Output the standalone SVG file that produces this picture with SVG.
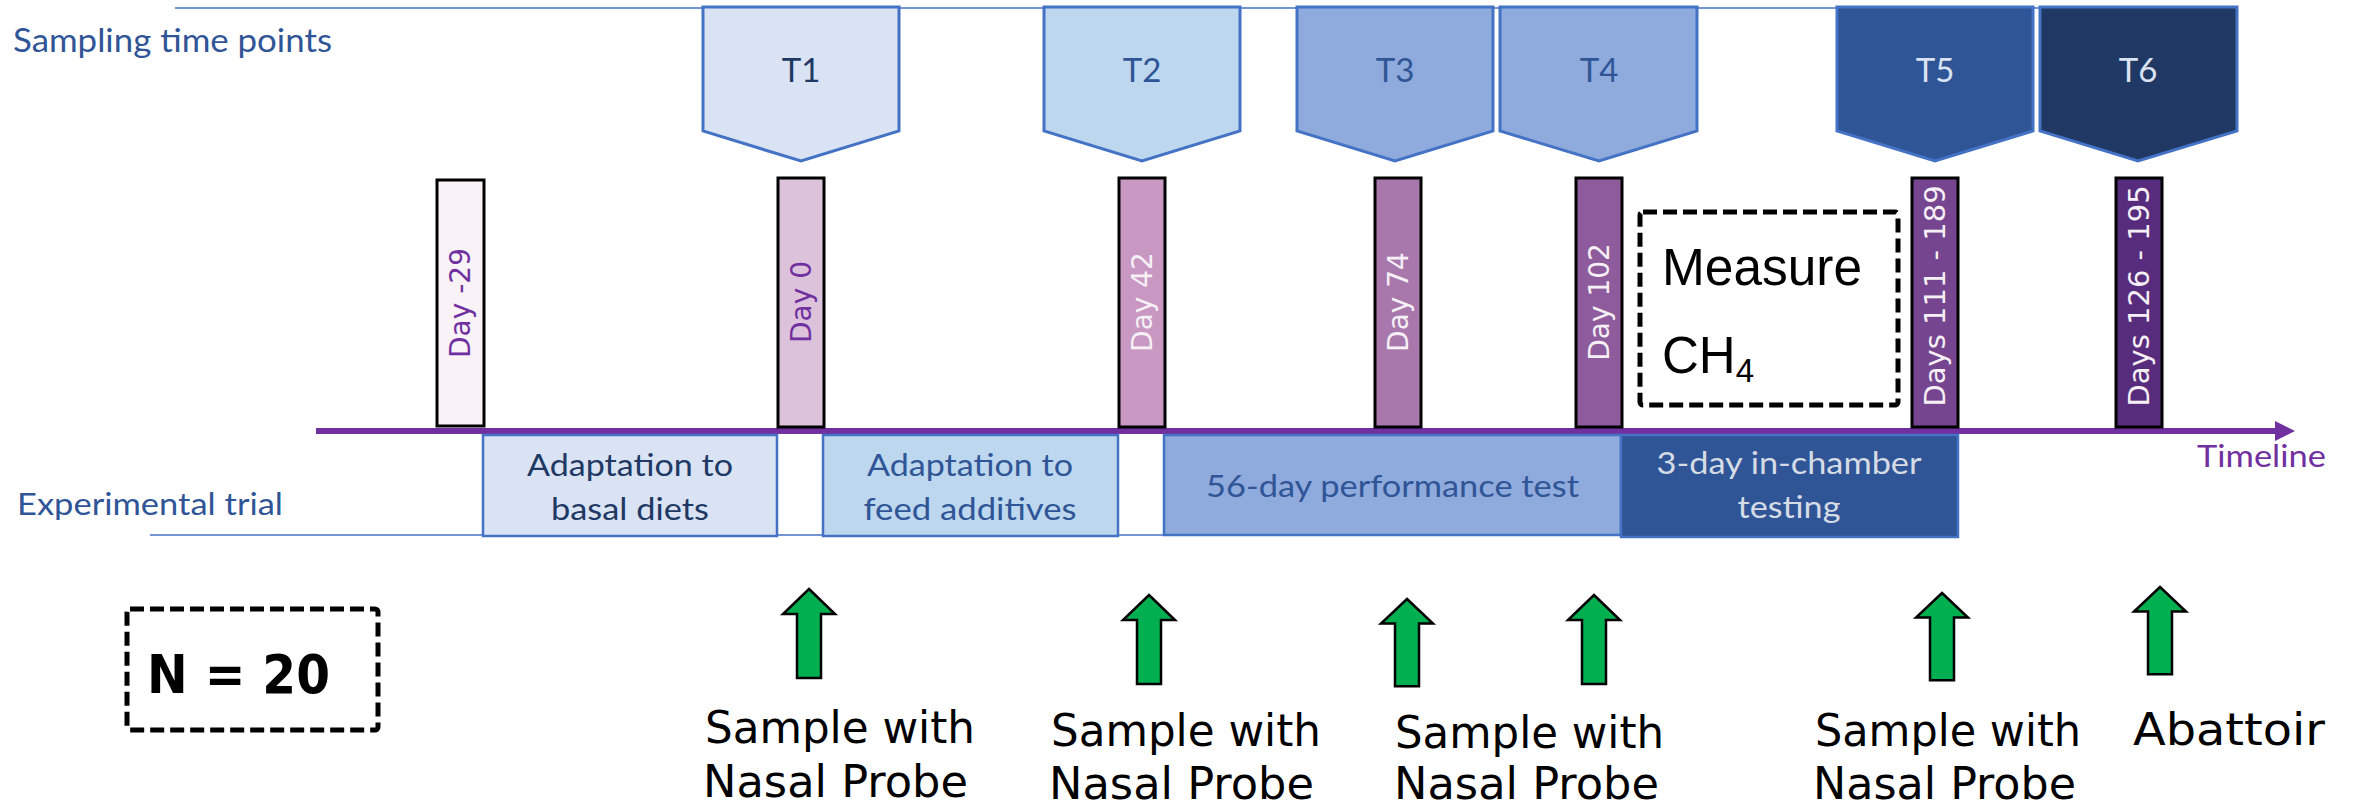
<svg xmlns="http://www.w3.org/2000/svg" width="2354" height="810" viewBox="0 0 2354 810">
<defs>
<style>
.cal{font-family:Lato,"Open Sans","Liberation Sans",sans-serif;}
.ver{font-family:"DejaVu Sans","Liberation Sans",sans-serif;}
.ari{font-family:"Liberation Sans",Arial,sans-serif;}
.com{font-family:"DejaVu Sans","Liberation Sans",sans-serif;fill:#000;}
.pent{stroke:#4472C4;stroke-width:3;stroke-linejoin:miter;}
.bar{stroke:#000;stroke-width:3;}
.trial{stroke:#4472C4;stroke-width:2.5;}
.dash{fill:none;stroke:#000;stroke-width:5;stroke-dasharray:14 6;}
.garrow{fill:#00B050;stroke:#000;stroke-width:2.5;stroke-linejoin:miter;}
.guide{stroke:#4472C4;stroke-width:1.5;}
</style>
<path id="uparrow" d="M0,0 L26,25 L12,25 L12,89 L-12,89 L-12,25 L-26,25 Z"/>
<marker id="tl" markerWidth="20" markerHeight="20" viewBox="0 0 20 20" refX="0" refY="10" orient="auto" markerUnits="userSpaceOnUse">
<path d="M0,0 L20,10 L0,20 Z" fill="#7030A0"/>
</marker>
</defs>
<rect width="2354" height="810" fill="#fff"/>

<g id="axes">
<line class="guide" x1="175" y1="8" x2="2040" y2="8"/>
<line class="guide" x1="150" y1="535" x2="1958" y2="535"/>
<text class="cal" x="13" y="52" font-size="33" fill="#2F5597" textLength="319" lengthAdjust="spacingAndGlyphs">Sampling time points</text>
<text class="cal" x="17" y="515" font-size="31" fill="#2F5597" textLength="266" lengthAdjust="spacingAndGlyphs">Experimental trial</text>
</g>

<g id="T1"><path class="pent" d="M703,7 L899,7 L899,131 L801,161 L703,131 Z" fill="#DAE3F3"/><text class="cal" x="801" y="82" font-size="33" fill="#203864" text-anchor="middle">T1</text></g>
<g id="T2"><path class="pent" d="M1044,7 L1240,7 L1240,131 L1142,161 L1044,131 Z" fill="#BDD7EE"/><text class="cal" x="1142" y="82" font-size="33" fill="#2F5597" text-anchor="middle">T2</text></g>
<g id="T3"><path class="pent" d="M1297,7 L1493,7 L1493,131 L1395,161 L1297,131 Z" fill="#8FAADC"/><text class="cal" x="1395" y="82" font-size="33" fill="#2F5597" text-anchor="middle">T3</text></g>
<g id="T4"><path class="pent" d="M1500,7 L1697,7 L1697,131 L1599,161 L1500,131 Z" fill="#8FAADC"/><text class="cal" x="1599" y="82" font-size="33" fill="#2F5597" text-anchor="middle">T4</text></g>
<g id="T5"><path class="pent" d="M1837,7 L2033,7 L2033,131 L1935,161 L1837,131 Z" fill="#2F5597"/><text class="cal" x="1935" y="82" font-size="33" fill="#DAE3F3" text-anchor="middle">T5</text></g>
<g id="T6"><path class="pent" d="M2040,7 L2237,7 L2237,131 L2138,161 L2040,131 Z" fill="#203864"/><text class="cal" x="2138" y="82" font-size="33" fill="#DAE3F3" text-anchor="middle">T6</text></g>

<g id="timeline">
<line x1="316" y1="431" x2="2275" y2="431" stroke="#7030A0" stroke-width="6" marker-end="url(#tl)"/>
<text class="cal" x="2197" y="467" font-size="31" fill="#7030A0" textLength="129" lengthAdjust="spacingAndGlyphs">Timeline</text>
</g>

<g id="day-29"><rect class="bar" x="437" y="180" width="47" height="246" fill="#F9F3F8"/><text class="ver" transform="translate(470,303) rotate(-90)" font-size="28" fill="#7030A0" text-anchor="middle">Day -29</text></g>
<g id="day0"><rect class="bar" x="778" y="178" width="46" height="249" fill="#DCC2DA"/><text class="ver" transform="translate(811,302) rotate(-90)" font-size="28" fill="#7030A0" text-anchor="middle">Day 0</text></g>
<g id="day42"><rect class="bar" x="1119" y="178" width="46" height="249" fill="#C898C2"/><text class="ver" transform="translate(1152,302) rotate(-90)" font-size="28" fill="#F6F0F6" text-anchor="middle">Day 42</text></g>
<g id="day74"><rect class="bar" x="1375" y="178" width="46" height="249" fill="#A878AC"/><text class="ver" transform="translate(1408,302) rotate(-90)" font-size="28" fill="#F6F0F6" text-anchor="middle">Day 74</text></g>
<g id="day102"><rect class="bar" x="1576" y="178" width="46" height="249" fill="#8E5C9C"/><text class="ver" transform="translate(1609,302) rotate(-90)" font-size="28" fill="#F6F0F6" text-anchor="middle">Day 102</text></g>
<g id="days111"><rect class="bar" x="1912" y="178" width="46" height="249" fill="#764590"/><text class="ver" transform="translate(1945,296) rotate(-90)" font-size="29" fill="#F6F0F6" text-anchor="middle">Days 111 - 189</text></g>
<g id="days126"><rect class="bar" x="2116" y="178" width="46" height="249" fill="#572C7C"/><text class="ver" transform="translate(2149,296) rotate(-90)" font-size="29" fill="#F6F0F6" text-anchor="middle">Days 126 - 195</text></g>

<g id="measure">
<rect class="dash" x="1640" y="212" width="258" height="193" rx="3"/>
<text class="ari" x="1662" y="285" font-size="51" fill="#000" textLength="200" lengthAdjust="spacingAndGlyphs">Measure</text>
<text class="ari" x="1662" y="373" font-size="51" fill="#000">CH<tspan font-size="33" dy="9">4</tspan></text>
</g>

<g id="trial1"><rect class="trial" x="483" y="435" width="294" height="101" fill="#DAE3F3"/><text class="cal" font-size="31" fill="#203864" text-anchor="middle"><tspan x="630" y="476" textLength="206" lengthAdjust="spacingAndGlyphs">Adaptation to</tspan><tspan x="630" y="520" textLength="158" lengthAdjust="spacingAndGlyphs">basal diets</tspan></text></g>
<g id="trial2"><rect class="trial" x="823" y="435" width="295" height="101" fill="#BDD7EE"/><text class="cal" font-size="31" fill="#2F5597" text-anchor="middle"><tspan x="970" y="476" textLength="206" lengthAdjust="spacingAndGlyphs">Adaptation to</tspan><tspan x="970" y="520" textLength="213" lengthAdjust="spacingAndGlyphs">feed additives</tspan></text></g>
<g id="trial3"><rect class="trial" x="1164" y="435" width="457" height="100" fill="#8FAADC"/><text class="cal" x="1206" y="497" font-size="31" fill="#2F5597" textLength="373" lengthAdjust="spacingAndGlyphs">56-day performance test</text></g>
<g id="trial4"><rect class="trial" x="1621" y="435" width="337" height="102" fill="#2F5597"/><text class="cal" font-size="31" fill="#D6DCE5" text-anchor="middle"><tspan x="1789" y="474" textLength="265" lengthAdjust="spacingAndGlyphs">3-day in-chamber</tspan><tspan x="1789" y="518" textLength="103" lengthAdjust="spacingAndGlyphs">testing</tspan></text></g>

<g id="n20">
<rect class="dash" x="127" y="609" width="251" height="121" rx="3"/>
<text class="com" x="147" y="693" font-size="54" font-weight="bold" textLength="183" lengthAdjust="spacingAndGlyphs">N = 20</text>
</g>

<g id="connectors">
<use href="#uparrow" class="garrow" transform="translate(809,589)"/>
<use href="#uparrow" class="garrow" transform="translate(1149,595)"/>
<use href="#uparrow" class="garrow" transform="translate(1407,599) scale(1,0.98)"/>
<use href="#uparrow" class="garrow" transform="translate(1594,595)"/>
<use href="#uparrow" class="garrow" transform="translate(1942,593) scale(1,0.98)"/>
<use href="#uparrow" class="garrow" transform="translate(2160,587) scale(1,0.98)"/>
</g>

<g id="label1"><text class="com" font-size="45"><tspan x="705" y="743" textLength="270" lengthAdjust="spacingAndGlyphs">Sample with</tspan><tspan x="703" y="797" textLength="265" lengthAdjust="spacingAndGlyphs">Nasal Probe</tspan></text></g>
<g id="label2"><text class="com" font-size="45"><tspan x="1051" y="746" textLength="270" lengthAdjust="spacingAndGlyphs">Sample with</tspan><tspan x="1049" y="799" textLength="265" lengthAdjust="spacingAndGlyphs">Nasal Probe</tspan></text></g>
<g id="label3"><text class="com" font-size="45"><tspan x="1395" y="748" textLength="269" lengthAdjust="spacingAndGlyphs">Sample with</tspan><tspan x="1394" y="799" textLength="265" lengthAdjust="spacingAndGlyphs">Nasal Probe</tspan></text></g>
<g id="label4"><text class="com" font-size="45"><tspan x="1815" y="746" textLength="266" lengthAdjust="spacingAndGlyphs">Sample with</tspan><tspan x="1813" y="799" textLength="263" lengthAdjust="spacingAndGlyphs">Nasal Probe</tspan></text></g>
<g id="label5"><text class="com" x="2133" y="745" font-size="45" textLength="192" lengthAdjust="spacingAndGlyphs">Abattoir</text></g>
</svg>
